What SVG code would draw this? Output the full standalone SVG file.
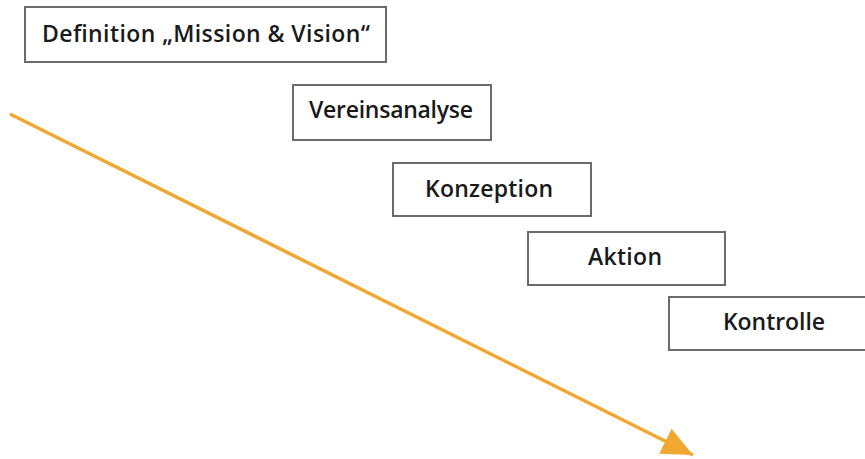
<svg xmlns="http://www.w3.org/2000/svg" width="865" height="459" viewBox="0 0 865 459">
<style>
.box{fill:#fff;stroke:#6b6b6b;stroke-width:2}
.lbl{font-family:"Open Sans","Liberation Sans",sans-serif;font-weight:600;font-size:23px;fill:#1a1a1a;text-anchor:middle}
.arr{stroke:#f2a731;stroke-width:3.5;fill:none}
</style>
<defs>
<marker id="ah" markerUnits="userSpaceOnUse" markerWidth="36" markerHeight="32" refX="31" refY="14" orient="auto">
<path d="M0,0 L31,14 L0,28 Z" fill="#f2a731"/>
</marker>
</defs>
<rect width="865" height="459" fill="#fff"/>
<g id="connectors">
<line class="arr" x1="10" y1="114" x2="693" y2="455" marker-end="url(#ah)"/>
</g>
<g id="n1"><rect class="box" x="25" y="7" width="361" height="55"/><text class="lbl" x="206" y="42" textLength="328" lengthAdjust="spacing">Definition „Mission &amp; Vision“</text></g>
<g id="n2"><rect class="box" x="293" y="85" width="198" height="55"/><text class="lbl" x="391" y="118" textLength="164" lengthAdjust="spacing">Vereinsanalyse</text></g>
<g id="n3"><rect class="box" x="393" y="163" width="198" height="53"/><text class="lbl" x="489" y="197" textLength="128" lengthAdjust="spacing">Konzeption</text></g>
<g id="n4"><rect class="box" x="528" y="232" width="197" height="53"/><text class="lbl" x="625" y="265" textLength="74" lengthAdjust="spacing">Aktion</text></g>
<g id="n5"><rect class="box" x="669" y="297" width="210" height="53"/><text class="lbl" x="774" y="330" textLength="102" lengthAdjust="spacing">Kontrolle</text></g>
</svg>
